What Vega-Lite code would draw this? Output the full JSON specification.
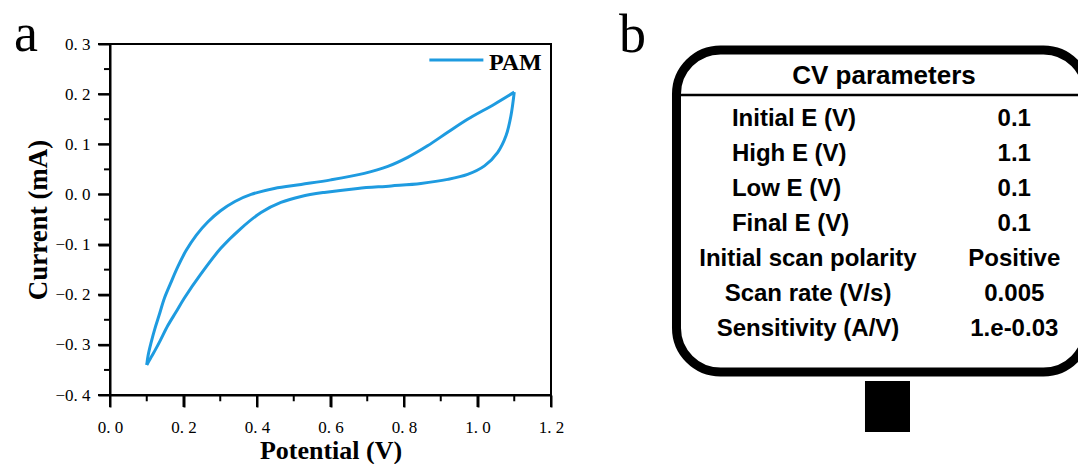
{
  "$schema": "https://vega.github.io/schema/vega-lite/v6.json",
  "background": "white",
  "padding": {"left": 13, "top": 7, "right": 0, "bottom": 0},
  "spacing": 49,
  "config": {"font": "Liberation Serif"},
  "hconcat": [
    {
      "width": 441,
      "height": 351,
      "view": {"stroke": "black", "strokeWidth": 2},
      "layer": [
        {
          "data": {"values": [
            {"branch": "forward", "step": 1, "potential": 0.100, "current": -0.340, "series": "PAM"},
            {"branch": "forward", "step": 2, "potential": 0.104, "current": -0.320, "series": "PAM"},
            {"branch": "forward", "step": 3, "potential": 0.112, "current": -0.295, "series": "PAM"},
            {"branch": "forward", "step": 4, "potential": 0.122, "current": -0.268, "series": "PAM"},
            {"branch": "forward", "step": 5, "potential": 0.134, "current": -0.240, "series": "PAM"},
            {"branch": "forward", "step": 6, "potential": 0.148, "current": -0.207, "series": "PAM"},
            {"branch": "forward", "step": 7, "potential": 0.165, "current": -0.177, "series": "PAM"},
            {"branch": "forward", "step": 8, "potential": 0.184, "current": -0.145, "series": "PAM"},
            {"branch": "forward", "step": 9, "potential": 0.207, "current": -0.112, "series": "PAM"},
            {"branch": "forward", "step": 10, "potential": 0.235, "current": -0.081, "series": "PAM"},
            {"branch": "forward", "step": 11, "potential": 0.266, "current": -0.055, "series": "PAM"},
            {"branch": "forward", "step": 12, "potential": 0.300, "current": -0.033, "series": "PAM"},
            {"branch": "forward", "step": 13, "potential": 0.340, "current": -0.014, "series": "PAM"},
            {"branch": "forward", "step": 14, "potential": 0.384, "current": 0.000, "series": "PAM"},
            {"branch": "forward", "step": 15, "potential": 0.447, "current": 0.012, "series": "PAM"},
            {"branch": "forward", "step": 16, "potential": 0.520, "current": 0.020, "series": "PAM"},
            {"branch": "forward", "step": 17, "potential": 0.601, "current": 0.029, "series": "PAM"},
            {"branch": "forward", "step": 18, "potential": 0.692, "current": 0.042, "series": "PAM"},
            {"branch": "forward", "step": 19, "potential": 0.756, "current": 0.056, "series": "PAM"},
            {"branch": "forward", "step": 20, "potential": 0.810, "current": 0.074, "series": "PAM"},
            {"branch": "forward", "step": 21, "potential": 0.864, "current": 0.097, "series": "PAM"},
            {"branch": "forward", "step": 22, "potential": 0.919, "current": 0.124, "series": "PAM"},
            {"branch": "forward", "step": 23, "potential": 0.973, "current": 0.150, "series": "PAM"},
            {"branch": "forward", "step": 24, "potential": 1.046, "current": 0.180, "series": "PAM"},
            {"branch": "forward", "step": 25, "potential": 1.100, "current": 0.204, "series": "PAM"},
            {"branch": "reverse", "step": 26, "potential": 1.100, "current": 0.204, "series": "PAM"},
            {"branch": "reverse", "step": 27, "potential": 1.091, "current": 0.157, "series": "PAM"},
            {"branch": "reverse", "step": 28, "potential": 1.078, "current": 0.118, "series": "PAM"},
            {"branch": "reverse", "step": 29, "potential": 1.055, "current": 0.084, "series": "PAM"},
            {"branch": "reverse", "step": 30, "potential": 1.019, "current": 0.057, "series": "PAM"},
            {"branch": "reverse", "step": 31, "potential": 0.973, "current": 0.040, "series": "PAM"},
            {"branch": "reverse", "step": 32, "potential": 0.919, "current": 0.030, "series": "PAM"},
            {"branch": "reverse", "step": 33, "potential": 0.846, "current": 0.022, "series": "PAM"},
            {"branch": "reverse", "step": 34, "potential": 0.765, "current": 0.017, "series": "PAM"},
            {"branch": "reverse", "step": 35, "potential": 0.674, "current": 0.012, "series": "PAM"},
            {"branch": "reverse", "step": 36, "potential": 0.583, "current": 0.004, "series": "PAM"},
            {"branch": "reverse", "step": 37, "potential": 0.520, "current": -0.004, "series": "PAM"},
            {"branch": "reverse", "step": 38, "potential": 0.465, "current": -0.016, "series": "PAM"},
            {"branch": "reverse", "step": 39, "potential": 0.411, "current": -0.036, "series": "PAM"},
            {"branch": "reverse", "step": 40, "potential": 0.356, "current": -0.068, "series": "PAM"},
            {"branch": "reverse", "step": 41, "potential": 0.302, "current": -0.107, "series": "PAM"},
            {"branch": "reverse", "step": 42, "potential": 0.248, "current": -0.158, "series": "PAM"},
            {"branch": "reverse", "step": 43, "potential": 0.202, "current": -0.207, "series": "PAM"},
            {"branch": "reverse", "step": 44, "potential": 0.180, "current": -0.234, "series": "PAM"},
            {"branch": "reverse", "step": 45, "potential": 0.157, "current": -0.262, "series": "PAM"},
            {"branch": "reverse", "step": 46, "potential": 0.137, "current": -0.291, "series": "PAM"},
            {"branch": "reverse", "step": 47, "potential": 0.121, "current": -0.313, "series": "PAM"},
            {"branch": "reverse", "step": 48, "potential": 0.110, "current": -0.327, "series": "PAM"},
            {"branch": "reverse", "step": 49, "potential": 0.100, "current": -0.340, "series": "PAM"}
          ]},
          "mark": {"type": "line", "strokeWidth": 3, "interpolate": "catmull-rom", "color": "#1E9BE0"},
          "encoding": {
            "x": {
              "field": "potential", "type": "quantitative",
              "scale": {"domain": [0, 1.2], "nice": false, "zero": false},
              "axis": {
                "title": "Potential (V)",
                "values": [0, 0.2, 0.4, 0.6, 0.8, 1.0, 1.2],
                "labelExpr": "replace(format(datum.value, '.1f'), '.', '. ')",
                "ticks": true, "tickSize": 12, "tickWidth": 2, "tickColor": "black",
                "domainColor": "black", "domainWidth": 2,
                "grid": false, "labelFlush": false, "labelOverlap": false,
                "labelFont": "Liberation Serif", "labelFontSize": 17, "labelColor": "black", "labelPadding": 12,
                "titleFont": "Liberation Serif", "titleFontSize": 26, "titleFontWeight": "bold", "titleColor": "black", "titlePadding": 2
              }
            },
            "y": {
              "field": "current", "type": "quantitative",
              "scale": {"domain": [-0.4, 0.3], "nice": false, "zero": false},
              "axis": {
                "title": "Current (mA)",
                "values": [-0.4, -0.3, -0.2, -0.1, 0, 0.1, 0.2, 0.3],
                "labelExpr": "replace(format(datum.value, '.1f'), '.', '. ')",
                "ticks": true, "tickSize": 12, "tickWidth": 2, "tickColor": "black",
                "domainColor": "black", "domainWidth": 2,
                "grid": false, "labelFlush": false, "labelOverlap": false,
                "labelFont": "Liberation Serif", "labelFontSize": 17, "labelColor": "black", "labelPadding": 8,
                "titleFont": "Liberation Serif", "titleFontSize": 27, "titleFontWeight": "bold", "titleColor": "black", "titlePadding": 2
              }
            },
            "detail": {"field": "branch"},
            "order": {"field": "step", "type": "quantitative"}
          }
        },
        {
          "data": {"values": [{"tick": 0}, {"tick": 0.2}, {"tick": 0.4}, {"tick": 0.6}, {"tick": 0.8}, {"tick": 1.0}, {"tick": 1.2}]},
          "mark": {"type": "rule", "strokeWidth": 2, "color": "black"},
          "encoding": {
            "x": {"field": "tick", "type": "quantitative", "scale": {"domain": [0, 1.2], "nice": false, "zero": false}},
            "y": {"datum": -0.4, "type": "quantitative", "scale": {"domain": [-0.4, 0.3], "nice": false, "zero": false}},
            "y2": {"datum": -0.4239}
          }
        },
        {
          "data": {"values": [{"tick": 0.1}, {"tick": 0.3}, {"tick": 0.5}, {"tick": 0.7}, {"tick": 0.9}, {"tick": 1.1}]},
          "mark": {"type": "rule", "strokeWidth": 2, "color": "black"},
          "encoding": {
            "x": {"field": "tick", "type": "quantitative", "scale": {"domain": [0, 1.2], "nice": false, "zero": false}},
            "y": {"datum": -0.4, "type": "quantitative", "scale": {"domain": [-0.4, 0.3], "nice": false, "zero": false}},
            "y2": {"datum": -0.4125}
          }
        },
        {
          "data": {"values": [{"tick": -0.4}, {"tick": -0.3}, {"tick": -0.2}, {"tick": -0.1}, {"tick": 0}, {"tick": 0.1}, {"tick": 0.2}, {"tick": 0.3}]},
          "mark": {"type": "rule", "strokeWidth": 2, "color": "black"},
          "encoding": {
            "y": {"field": "tick", "type": "quantitative", "scale": {"domain": [-0.4, 0.3], "nice": false, "zero": false}},
            "x": {"datum": 0, "type": "quantitative", "scale": {"domain": [0, 1.2], "nice": false, "zero": false}},
            "x2": {"datum": -0.0327}
          }
        },
        {
          "data": {"values": [{"tick": -0.35}, {"tick": -0.25}, {"tick": -0.15}, {"tick": -0.05}, {"tick": 0.05}, {"tick": 0.15}, {"tick": 0.25}]},
          "mark": {"type": "rule", "strokeWidth": 2, "color": "black"},
          "encoding": {
            "y": {"field": "tick", "type": "quantitative", "scale": {"domain": [-0.4, 0.3], "nice": false, "zero": false}},
            "x": {"datum": 0, "type": "quantitative", "scale": {"domain": [0, 1.2], "nice": false, "zero": false}},
            "x2": {"datum": -0.0163}
          }
        },
        {
          "data": {"values": [{}]},
          "mark": {"type": "rule", "strokeWidth": 3, "color": "#1E9BE0"},
          "encoding": {
            "x": {"datum": 0.869, "type": "quantitative", "scale": {"domain": [0, 1.2], "nice": false, "zero": false}},
            "x2": {"datum": 1.016},
            "y": {"datum": 0.268, "type": "quantitative", "scale": {"domain": [-0.4, 0.3], "nice": false, "zero": false}}
          }
        },
        {
          "data": {"values": [{}]},
          "mark": {"type": "text", "text": "PAM", "font": "Liberation Serif", "fontWeight": "bold", "fontSize": 24, "align": "left", "baseline": "middle", "color": "black"},
          "encoding": {
            "x": {"datum": 1.031, "type": "quantitative", "scale": {"domain": [0, 1.2], "nice": false, "zero": false}},
            "y": {"datum": 0.263, "type": "quantitative", "scale": {"domain": [-0.4, 0.3], "nice": false, "zero": false}}
          }
        },
        {
          "data": {"values": [{}]},
          "mark": {"type": "text", "text": "a", "font": "Liberation Serif", "fontSize": 54, "align": "left", "baseline": "alphabetic", "color": "black"},
          "encoding": {
            "x": {"datum": -0.261, "type": "quantitative", "scale": {"domain": [0, 1.2], "nice": false, "zero": false}},
            "y": {"datum": 0.286, "type": "quantitative", "scale": {"domain": [-0.4, 0.3], "nice": false, "zero": false}}
          }
        }
      ]
    },
    {
      "width": 466,
      "height": 395,
      "view": {"stroke": null},
      "data": {"values": [
        {"row": 1, "param": "Initial E (V)", "value": "0.1"},
        {"row": 2, "param": "High  E (V)", "value": "1.1"},
        {"row": 3, "param": "Low  E (V)", "value": "0.1"},
        {"row": 4, "param": "Final E (V)", "value": "0.1"},
        {"row": 5, "param": "Initial scan polarity", "value": "Positive"},
        {"row": 6, "param": "Scan rate (V/s)", "value": "0.005"},
        {"row": 7, "param": "Sensitivity (A/V)", "value": "1.e-0.03"}
      ]},
      "layer": [
        {
          "data": {"values": [{}]},
          "mark": {"type": "rect", "fill": "white", "stroke": "black", "strokeWidth": 9, "cornerRadius": 44, "clip": true},
          "encoding": {
            "x": {"datum": 13.41, "type": "quantitative", "scale": {"domain": [0, 100], "nice": false, "zero": false, "clamp": false}, "axis": null},
            "x2": {"datum": 101.6},
            "y": {"datum": -0.971, "type": "quantitative", "scale": {"domain": [-1.143, 10.143], "nice": false, "zero": false, "reverse": true, "clamp": false}, "axis": null},
            "y2": {"datum": 8.229}
          }
        },
        {
          "data": {"values": [{}]},
          "mark": {"type": "rule", "strokeWidth": 2.5, "color": "black", "clip": true},
          "encoding": {
            "x": {"datum": 13.41, "type": "quantitative", "scale": {"domain": [0, 100], "nice": false, "zero": false, "clamp": false}},
            "x2": {"datum": 101.6},
            "y": {"datum": 0.314, "type": "quantitative", "scale": {"domain": [-1.143, 10.143], "nice": false, "zero": false, "reverse": true, "clamp": false}}
          }
        },
        {
          "data": {"values": [{}]},
          "mark": {"type": "text", "text": "CV parameters", "font": "Liberation Sans", "fontWeight": "bold", "fontSize": 26, "align": "center", "baseline": "middle", "color": "black"},
          "encoding": {
            "x": {"datum": 57.94, "type": "quantitative", "scale": {"domain": [0, 100], "nice": false, "zero": false, "clamp": false}},
            "y": {"datum": -0.229, "type": "quantitative", "scale": {"domain": [-1.143, 10.143], "nice": false, "zero": false, "reverse": true, "clamp": false}}
          }
        },
        {
          "transform": [{"filter": "datum.row <= 4"}],
          "mark": {"type": "text", "font": "Liberation Sans", "fontWeight": "bold", "fontSize": 24, "align": "left", "baseline": "middle", "color": "black"},
          "encoding": {
            "x": {"datum": 25.3, "type": "quantitative", "scale": {"domain": [0, 100], "nice": false, "zero": false, "clamp": false}},
            "y": {"field": "row", "type": "quantitative", "scale": {"domain": [-1.143, 10.143], "nice": false, "zero": false, "reverse": true, "clamp": false}},
            "text": {"field": "param"}
          }
        },
        {
          "transform": [{"filter": "datum.row > 4"}],
          "mark": {"type": "text", "font": "Liberation Sans", "fontWeight": "bold", "fontSize": 24, "align": "center", "baseline": "middle", "color": "black"},
          "encoding": {
            "x": {"datum": 41.63, "type": "quantitative", "scale": {"domain": [0, 100], "nice": false, "zero": false, "clamp": false}},
            "y": {"field": "row", "type": "quantitative", "scale": {"domain": [-1.143, 10.143], "nice": false, "zero": false, "reverse": true, "clamp": false}},
            "text": {"field": "param"}
          }
        },
        {
          "mark": {"type": "text", "font": "Liberation Sans", "fontWeight": "bold", "fontSize": 24, "align": "center", "baseline": "middle", "color": "black"},
          "encoding": {
            "x": {"datum": 85.9, "type": "quantitative", "scale": {"domain": [0, 100], "nice": false, "zero": false, "clamp": false}},
            "y": {"field": "row", "type": "quantitative", "scale": {"domain": [-1.143, 10.143], "nice": false, "zero": false, "reverse": true, "clamp": false}},
            "text": {"field": "value"}
          }
        },
        {
          "data": {"values": [{}]},
          "mark": {"type": "rect", "fill": "black"},
          "encoding": {
            "x": {"datum": 53.86, "type": "quantitative", "scale": {"domain": [0, 100], "nice": false, "zero": false, "clamp": false}},
            "x2": {"datum": 63.52},
            "y": {"datum": 8.486, "type": "quantitative", "scale": {"domain": [-1.143, 10.143], "nice": false, "zero": false, "reverse": true, "clamp": false}},
            "y2": {"datum": 9.943}
          }
        },
        {
          "data": {"values": [{}]},
          "mark": {"type": "text", "text": "b", "font": "Liberation Serif", "fontSize": 54, "align": "left", "baseline": "alphabetic", "color": "black"},
          "encoding": {
            "x": {"datum": 1.07, "type": "quantitative", "scale": {"domain": [0, 100], "nice": false, "zero": false, "clamp": false}},
            "y": {"datum": -0.914, "type": "quantitative", "scale": {"domain": [-1.143, 10.143], "nice": false, "zero": false, "reverse": true, "clamp": false}}
          }
        }
      ]
    }
  ]
}
